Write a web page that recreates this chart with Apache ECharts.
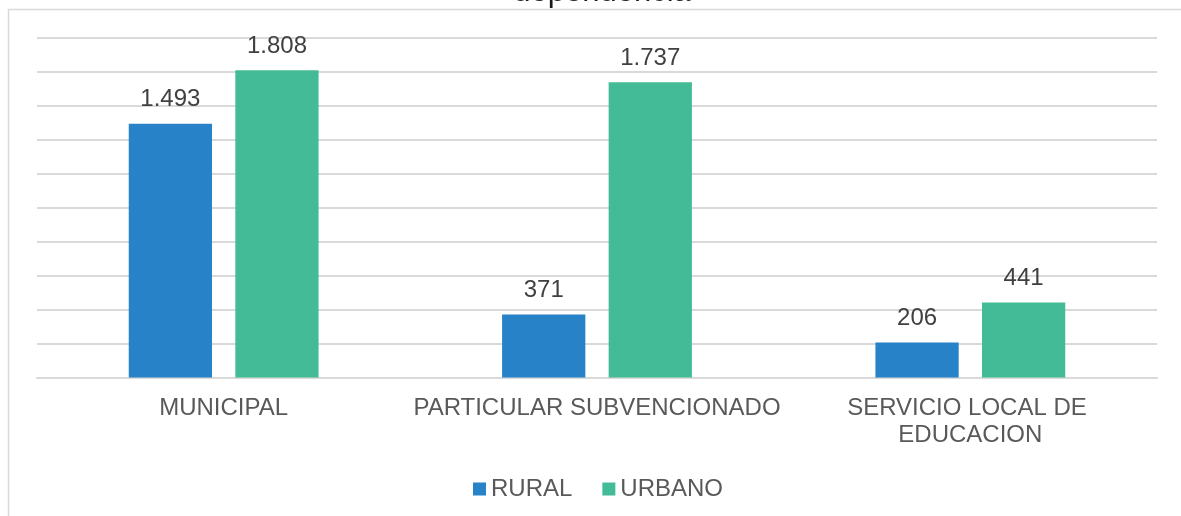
<!DOCTYPE html>
<html>
<head>
<meta charset="utf-8">
<script src="https://cdn.jsdelivr.net/npm/echarts@6/dist/echarts.min.js"></script>
<style>
  html, body { margin: 0; padding: 0; background: #fff; }
  #chart { width: 1181px; height: 516px; }
</style>
</head>
<body>
<div id="chart"></div>
<script>
// datos
const categories = ['MUNICIPAL', 'PARTICULAR SUBVENCIONADO', 'SERVICIO LOCAL DE EDUCACION']
const rural = [1493, 371, 206]
const urbano = [1808, 1737, 441]

const fmt = v => String(v).replace(/\B(?=(\d{3})+(?!\d))/g, '.')

const chart = echarts.init(document.getElementById('chart'))

const labelStyle = {
    show: true,
    position: 'top',
    distance: 12,
    fontSize: 24,
    color: '#404040',
    fontFamily: 'Liberation Sans, Arial, sans-serif',
    formatter: p => fmt(p.value)
}

const option = {
    animation: false,
    textStyle: { fontFamily: 'Liberation Sans, Arial, sans-serif' },
    graphic: [
        {
            type: 'rect',
            shape: { x: 8.5, y: 9.5, width: 1300, height: 600 },
            style: { fill: 'none', stroke: '#d9d9d9', lineWidth: 1.5 },
            silent: true
        },
        {
            type: 'text',
            x: 602,
            y: 8,
            style: {
                text: 'dependencia',
                fontSize: 31,
                fill: '#1a1a1a',
                align: 'center',
                verticalAlign: 'bottom',
                fontFamily: 'Liberation Sans, Arial, sans-serif'
            }
        }
    ],
    legend: {
        data: ['RURAL', 'URBANO'],
        left: 468,
        top: 472,
        itemWidth: 13,
        itemHeight: 13,
        itemGap: 30,
        icon: 'rect',
        textStyle: { fontSize: 24, color: '#595959' }
    },
    grid: {
        left: 37,
        right: 24,
        top: 37.5,
        bottom: 138.5
    },
    xAxis: {
        type: 'category',
        data: categories,
        axisTick: { show: false },
        axisLine: { lineStyle: { color: '#d9d9d9', width: 2 } },
        axisLabel: {
            fontSize: 24,
            color: '#595959',
            margin: 17,
            lineHeight: 27,
            width: 370,
            overflow: 'break',
            interval: 0
        }
    },
    yAxis: {
        type: 'value',
        min: 0,
        max: 2000,
        interval: 200,
        axisLabel: { show: false },
        axisLine: { show: false },
        axisTick: { show: false },
        splitLine: { lineStyle: { color: '#d9d9d9', width: 2 } }
    },
    series: [
        {
            name: 'RURAL',
            type: 'bar',
            data: rural,
            barWidth: '22.3%',
            barGap: '28%',
            itemStyle: { color: '#2782c7' },
            label: labelStyle
        },
        {
            name: 'URBANO',
            type: 'bar',
            data: urbano,
            barWidth: '22.3%',
            itemStyle: { color: '#43bb96' },
            label: labelStyle
        }
    ]
}

chart.setOption(option)
</script>
</body>
</html>
